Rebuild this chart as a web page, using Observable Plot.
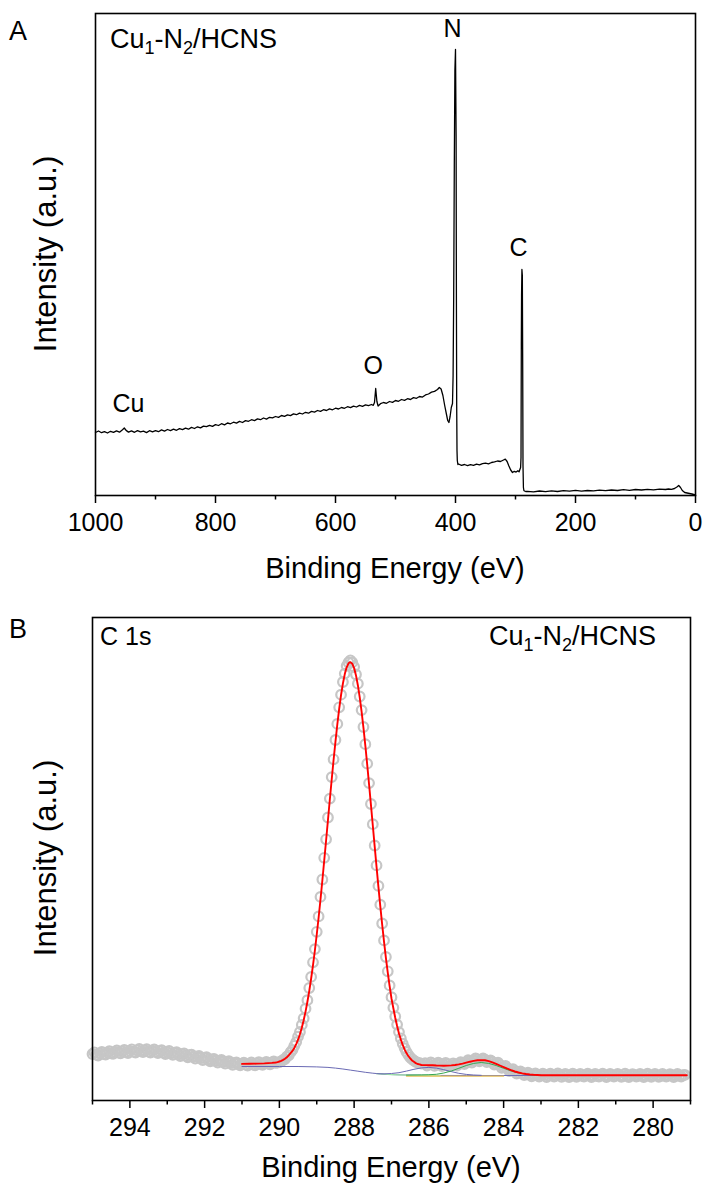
<!DOCTYPE html>
<html><head><meta charset="utf-8">
<script src="https://cdn.jsdelivr.net/npm/d3@7"></script>
<script src="https://cdn.jsdelivr.net/npm/@observablehq/plot@0.6"></script>
<style>
body{margin:0;background:#fff;}
#wrap{position:relative;width:704px;height:1191px;background:#fff;font-family:"Liberation Sans",Arial,sans-serif;}
.panel{position:absolute;left:0;}
</style></head><body><div id="wrap"><div id="pa" class="panel" style="top:0"></div><div id="pb" class="panel" style="top:600px"></div></div>
<script>
// ---------- Panel A : survey spectrum ----------
const surveyBE = [1000,995,990,985,980,975,970,965,960,955,952,949,945,940,935,930,925,920,915,910,905,900,895,890,885,880,875,870,865,860,855,850,845,840,835,830,825,820,815,810,805,800,795,790,785,780,775,770,765,760,755,750,745,740,735,730,725,720,715,710,705,700,695,690,685,680,675,670,665,660,655,650,645,640,635,630,625,620,615,610,605,600,595,590,585,580,575,570,565,560,555,550,545,540,537,535,533,531,529,525,520,515,510,505,500,495,490,485,480,475,470,465,460,455,450,445,440,435,430,427,424,421,418,415,413,411,409,407,405,404,403,402,401,400,399,398.5,398,397.5,397,396,395,390,385,380,375,370,365,360,355,350,345,340,335,330,325,320,317,314,311,308,305,302,299,296,294,293,291.5,290.8,290.3,289.9,289.3,288.6,288,287.5,286.8,286,285,283,280,270,260,250,240,230,220,210,200,190,180,170,160,150,140,130,120,110,100,90,80,70,60,50,45,40,35,31,28,25,22,18,14,10,6,3,0];
const surveyI = [63,64.5,62.8,63.9,62.5,64.2,63.1,64.6,63.3,65.8,67.5,65.1,63.4,64.7,63.2,64.9,63.6,64.3,62.9,64.8,63.7,64.9,63.8,65.6,64.4,66.0,64.9,66.3,65.2,66.9,65.9,67.4,66.3,68.1,67.0,68.7,67.6,69.4,68.8,70.2,69.1,70.9,70.0,71.8,70.6,72.5,71.7,73.3,72.4,74.1,73.0,74.9,74.2,75.8,74.9,76.6,75.8,77.5,76.4,78.2,77.6,79.0,78.1,80.0,79.2,80.7,79.9,81.6,80.8,82.4,81.5,83.2,82.3,84.1,83.4,85.0,84.1,85.8,85.0,86.6,85.7,87.3,86.5,88.0,87.2,88.8,87.9,89.4,88.5,90.1,89.2,90.6,89.8,91.0,90.2,93,107,94,89.5,91.8,93.0,92.2,94.0,93.1,95.0,94.2,96.0,95.1,96.8,96.0,97.9,97.2,99.0,98.4,100.6,101.5,103.4,104.1,106.0,108.0,106.5,100,90,81,75,73,79,88,92,120,200,330,425,446,360,200,90,45,35,31,31.5,30.2,31.0,29.8,30.9,30.1,31.3,30.6,31.8,32.4,31.7,33.0,33.6,34.5,34.0,35.5,36.4,34.0,29.5,25.5,23.0,24.2,23.4,24.8,23.6,25.5,28,38,150,200,226,220,130,30,8,5,4.5,4,4.2,3.6,4.5,3.8,4.6,4.0,4.9,4.3,5.1,4.4,5.0,4.6,5.4,4.8,5.5,5.0,5.8,5.2,6.0,5.5,6.2,5.7,6.4,6.0,6.5,6.2,7.0,8.5,10,8.0,5.0,3.0,2.5,2.0,1.5,1.0,0.5];
const surveyPeaks = [
  {t: "N", be: 405, i: 467},
  {t: "C", be: 295, i: 248},
  {t: "O", be: 537, i: 130},
  {t: "Cu", be: 945, i: 92}
];
const surveyMajor = [1000, 800, 600, 400, 200, 0];
const surveyMinor = [900, 700, 500, 300, 100];

// ---------- Panel B : C 1s ----------
const c1sRaw = [[295.0,46.5],[294.95,48.2],[294.9,45.8],[294.85,45.0],[294.8,47.1],[294.75,48.6],[294.7,46.4],[294.65,45.9],[294.6,47.9],[294.55,49.3],[294.5,47.2],[294.45,46.6],[294.4,48.6],[294.35,50.0],[294.3,47.9],[294.25,47.2],[294.2,49.1],[294.15,50.6],[294.1,48.3],[294.05,47.5],[294.0,49.6],[293.95,51.2],[293.9,48.8],[293.85,48.0],[293.8,50.2],[293.75,51.6],[293.7,49.4],[293.65,48.4],[293.6,50.1],[293.55,51.4],[293.5,49.0],[293.45,47.9],[293.4,49.8],[293.35,51.0],[293.3,48.6],[293.25,47.3],[293.2,49.3],[293.15,50.4],[293.1,47.9],[293.05,46.5],[293.0,48.4],[292.95,49.5],[292.9,47.2],[292.85,45.6],[292.8,47.6],[292.75,48.3],[292.7,46.1],[292.65,44.4],[292.6,46.4],[292.55,47.2],[292.5,45.0],[292.45,43.2],[292.4,45.3],[292.35,45.8],[292.3,43.8],[292.25,41.9],[292.2,43.9],[292.15,44.6],[292.1,42.4],[292.05,40.4],[292.0,42.5],[291.95,43.3],[291.9,41.1],[291.85,39.2],[291.8,41.0],[291.75,41.6],[291.7,39.6],[291.65,37.9],[291.6,39.8],[291.55,40.5],[291.5,38.5],[291.45,36.8],[291.4,38.7],[291.35,39.3],[291.3,37.4],[291.25,35.6],[291.2,37.6],[291.15,38.2],[291.1,36.5],[291.05,35.1],[291.0,36.9],[290.95,37.9],[290.9,35.8],[290.85,34.8],[290.8,36.6],[290.75,38.1],[290.7,36.0],[290.65,35.2],[290.6,37.0],[290.55,38.4],[290.5,36.4],[290.45,35.6],[290.4,37.3],[290.35,38.6],[290.3,36.9],[290.25,36.2],[290.2,38.0],[290.15,39.0],[290.1,37.6],
[290.05,37.9],[290.0,38.4],[289.95,39.1],[289.9,40.6],[289.85,41.5],[289.8,43.8],[289.75,45.2],[289.7,48.3],[289.65,50.6],[289.6,54.7],[289.55,58.4],[289.5,63.9],[289.45,68.5],[289.4,75.6],[289.35,82.1],[289.3,91.8],[289.25,100.3],[289.2,112.5],[289.15,123.6],[289.1,138.2],[289.05,151.4],[289.0,168.7],[288.95,184.1],[288.9,203.6],[288.85,221.0],[288.8,242.7],[288.75,261.2],[288.7,283.0],[288.65,301.9],[288.6,323.4],[288.55,341.2],[288.5,360.5],[288.45,376.6],[288.4,393.2],[288.35,405.8],[288.3,418.5],[288.25,426.9],[288.2,434.6],[288.15,438.0],[288.1,440.2],[288.05,438.1],[288.0,433.5],[287.95,426.0],[287.9,416.8],[287.85,404.0],[287.8,390.4],[287.75,373.5],[287.7,356.3],[287.65,336.8],[287.6,317.4],[287.55,296.5],[287.5,276.3],[287.45,255.0],[287.4,235.1],[287.35,214.6],[287.3,195.8],[287.25,177.0],[287.2,160.1],[287.15,143.5],[287.1,129.2],[287.05,115.1],[287.0,103.3],[286.95,92.8],[286.9,84.0],[286.85,75.9],[286.8,68.4],[286.75,62.2],[286.7,56.9],[286.65,52.4],[286.6,48.6],[286.55,45.7],[286.5,43.2],[286.45,41.3],[286.4,39.8],[286.35,38.6],[286.3,37.8],[286.25,37.3],[286.2,36.9],
[286.1,37.4],[286.05,35.0],[286.0,36.2],[285.95,38.2],[285.9,37.1],[285.85,34.6],[285.8,35.9],[285.75,37.9],[285.7,36.8],[285.65,34.3],[285.6,35.5],[285.55,37.5],[285.5,36.3],[285.45,34.1],[285.4,35.2],[285.35,37.2],[285.3,36.1],[285.25,34.8],[285.2,36.4],[285.15,38.4],[285.1,37.6],[285.05,36.3],[285.0,38.1],[284.95,40.4],[284.9,39.5],[284.85,38.0],[284.8,39.9],[284.75,42.0],[284.7,41.0],[284.65,39.2],[284.6,40.6],[284.55,42.1],[284.5,40.8],[284.45,38.5],[284.4,39.3],[284.35,40.2],[284.3,38.6],[284.25,35.9],[284.2,36.7],[284.15,37.8],[284.1,35.6],[284.05,32.6],[284.0,33.4],[283.95,34.6],[283.9,32.3],[283.85,29.5],[283.8,30.1],[283.75,31.3],[283.7,29.4],[283.65,27.0],[283.6,27.8],[283.55,29.1],[283.5,27.6],[283.45,25.5],[283.4,26.3],[283.35,27.9],[283.3,26.5],[283.25,24.2],[283.2,25.4],[283.15,27.1],[283.1,25.9],[283.05,23.9],[283.0,25.1],[282.95,26.8],[282.9,25.7],[282.85,23.5],[282.8,24.8],[282.75,26.9],[282.7,25.5],[282.65,23.8],[282.6,25.0],[282.55,27.0],[282.5,25.8],[282.45,23.6],[282.4,24.9],[282.35,26.7],[282.3,25.3],[282.25,23.4],[282.2,24.6],[282.15,26.8],[282.1,25.4],[282.05,23.7],[282.0,25.1],[281.95,26.5],[281.9,24.7],[281.85,23.9],[281.8,25.6],[281.75,26.9],[281.7,24.9],[281.65,23.5],[281.6,25.2],[281.55,26.6],[281.5,24.5],[281.45,23.8],[281.4,25.3],[281.35,26.8],[281.3,25.0],[281.25,23.4],[281.2,24.6],[281.15,26.5],[281.1,25.4],[281.05,23.9],[281.0,24.8],[280.95,26.7],[280.9,25.1],[280.85,23.6],[280.8,24.4],[280.75,26.9],[280.7,25.2],[280.65,23.5],[280.6,24.9],[280.55,26.4],[280.5,25.5],[280.45,23.8],[280.4,24.6],[280.35,26.6],[280.3,25.0],[280.25,23.4],[280.2,24.7],[280.15,26.8],[280.1,25.3],[280.05,23.7],[280.0,24.8],[279.95,26.5],[279.9,25.1],[279.85,23.6],[279.8,24.5],[279.75,26.7],[279.7,25.2],[279.65,23.8],[279.6,24.9],[279.55,26.4],[279.5,25.4],[279.45,23.5],[279.4,24.7],[279.35,26.6],[279.3,25.0],[279.25,24.0],[279.2,25.3],[279.15,25.6]];
const c1sFit = [[291.0,36.6],[290.8,36.7],[290.6,36.9],[290.4,37.1],[290.2,37.6],[290.1,38.0],[290.05,38.4],[290.0,39.0],[289.95,39.7],[289.9,40.6],[289.85,41.8],[289.8,43.3],[289.75,45.1],[289.7,47.3],[289.65,49.6],[289.6,52.6],[289.55,56.4],[289.5,60.8],[289.45,66.3],[289.4,72.8],[289.35,80.3],[289.3,88.9],[289.25,98.7],[289.2,109.7],[289.15,122.0],[289.1,135.3],[289.05,150.0],[289.0,166.0],[288.95,183.0],[288.9,201.0],[288.85,220.0],[288.8,240.0],[288.75,260.0],[288.7,280.5],[288.65,301.0],[288.6,321.0],[288.55,340.5],[288.5,358.7],[288.45,376.0],[288.4,391.7],[288.35,405.5],[288.3,417.0],[288.25,426.4],[288.2,433.2],[288.15,437.2],[288.1,438.4],[288.05,436.8],[288.0,432.4],[287.95,425.1],[287.9,415.3],[287.85,403.2],[287.8,388.9],[287.75,372.7],[287.7,354.9],[287.65,335.9],[287.6,316.0],[287.55,295.6],[287.5,275.0],[287.45,254.2],[287.4,233.7],[287.35,213.7],[287.3,194.4],[287.25,176.1],[287.2,158.8],[287.15,142.7],[287.1,127.9],[287.05,114.3],[287.0,102.0],[286.95,92.3],[286.9,82.8],[286.85,74.5],[286.8,67.1],[286.75,60.9],[286.7,55.6],[286.65,51.1],[286.6,47.4],[286.55,44.5],[286.5,42.1],[286.45,40.0],[286.4,38.7],[286.35,37.4],[286.3,36.5],[286.25,36.1],[286.2,35.5],[286.1,35.4],[286.0,35.3],[285.9,35.2],[285.8,35.0],[285.7,34.9],[285.6,34.8],[285.5,34.9],[285.4,35.1],[285.3,35.5],[285.2,36.1],[285.1,36.9],[285.0,37.9],[284.9,38.8],[284.8,39.6],[284.7,40.2],[284.6,40.4],[284.5,40.2],[284.4,39.4],[284.3,38.1],[284.2,36.6],[284.1,35.0],[284.0,33.4],[283.9,31.8],[283.8,30.3],[283.7,29.0],[283.6,28.0],[283.5,27.1],[283.4,26.5],[283.3,26.0],[283.2,25.7],[283.1,25.5],[283.0,25.3],[282.5,25.2],[282.0,25.2],[281.0,25.2],[280.0,25.2],[279.1,25.2]];
const c1sBackground = [[291.0,34.0],[290.0,34.0],[289.5,34.0],[289.0,33.6],[288.7,33.1],[288.5,32.4],[288.3,31.5],[288.1,30.4],[287.9,29.3],[287.7,28.2],[287.5,27.3],[287.3,26.6],[287.1,26.1],[286.9,25.8],[286.6,25.5],[286.3,25.3],[286.0,25.1],[285.0,25.0],[283.0,25.0],[281.0,25.0],[279.1,25.0]];
const c1sCO = [[287.4,26.9],[287.2,26.6],[287.0,27.0],[286.8,27.8],[286.6,29.4],[286.4,31.2],[286.2,32.6],[286.0,33.1],[285.8,32.4],[285.6,30.8],[285.4,28.9],[285.2,27.2],[285.0,26.1],[284.8,25.5],[284.6,25.2]];
const c1sCC = [[286.6,25.4],[286.2,25.6],[286.0,25.8],[285.8,26.2],[285.6,27.5],[285.4,29.5],[285.2,32.2],[285.0,35.0],[284.8,37.1],[284.6,38.0],[284.4,37.1],[284.2,35.0],[284.0,32.2],[283.8,29.5],[283.6,27.5],[283.4,26.2],[283.2,25.5],[283.0,25.2]];
const c1sBaseA = [[287.4,26.8],[287.0,25.9],[286.6,25.3],[286.0,24.9],[285.7,24.8]];
const c1sBaseB = [[286.6,24.4],[286.0,24.3],[285.0,24.3],[284.0,24.4]];
const c1sMajor = [294, 292, 290, 288, 286, 284, 282, 280];
const c1sMinor = [295, 293, 291, 289, 287, 285, 283, 281, 279];

const FONT = "Liberation Sans, Arial, sans-serif";
const pts = a => a.map(([x, y]) => ({x, y}));

const A = Plot.plot({
  width: 704, height: 600,
  marginTop: 13, marginBottom: 105, marginLeft: 95, marginRight: 9,
  style: {fontFamily: FONT, fontSize: "25px", color: "#000", background: "transparent", overflow: "visible"},
  x: {domain: [1000, 0]},
  y: {domain: [0, 482], axis: null},
  marks: [
    Plot.axisX({ticks: surveyMajor, tickSize: 8, tickPadding: 10, tickFormat: d => `${d}`, label: null, strokeWidth: 1.5}),
    Plot.axisX({ticks: surveyMinor, tickSize: 4.5, tickFormat: () => "", label: null, strokeWidth: 1.5}),
    Plot.line(surveyBE.map((x, i) => ({x, y: surveyI[i]})), {x: "x", y: "y", stroke: "#000", strokeWidth: 1.3}),
    Plot.text(surveyPeaks, {x: "be", y: "i", text: "t", fontSize: 25, fill: "#000"}),
    Plot.frame({stroke: "#000", strokeWidth: 1.6})
  ]
});

const B = Plot.plot({
  width: 704, height: 591,
  marginTop: 17, marginBottom: 91, marginLeft: 92, marginRight: 14,
  style: {fontFamily: FONT, fontSize: "25px", color: "#000", background: "transparent", overflow: "visible"},
  x: {domain: [295, 279]},
  y: {domain: [0, 483], axis: null},
  marks: [
    Plot.axisX({ticks: c1sMajor, tickSize: 8, tickPadding: 10, tickFormat: d => `${d}`, label: null, strokeWidth: 1.5}),
    Plot.axisX({ticks: c1sMinor, tickSize: 4.5, tickFormat: () => "", label: null, strokeWidth: 1.5}),
    Plot.dot(pts(c1sRaw), {x: "x", y: "y", r: 4.8, stroke: "#c6c6c6", strokeWidth: 2.2, fill: "none"}),
    Plot.line(pts(c1sBackground), {x: "x", y: "y", stroke: "#6a6ab4", strokeWidth: 1}),
    Plot.line(pts(c1sBaseA), {x: "x", y: "y", stroke: "#9ee3a6", strokeWidth: 1.2}),
    Plot.line(pts(c1sBaseB), {x: "x", y: "y", stroke: "#e8c15a", strokeWidth: 1.2}),
    Plot.line(pts(c1sCO), {x: "x", y: "y", stroke: "#6a6ab4", strokeWidth: 1}),
    Plot.line(pts(c1sCC), {x: "x", y: "y", stroke: "#35a852", strokeWidth: 1}),
    Plot.line(pts(c1sFit), {x: "x", y: "y", stroke: "#ff0000", strokeWidth: 1.9}),
    Plot.frame({stroke: "#000", strokeWidth: 1.6})
  ]
});

document.getElementById("pa").appendChild(A);
document.getElementById("pb").appendChild(B);

function txt(svg, x, y, s, size, anchor = "start", rot = false) {
  const t = d3.select(svg).append("text")
    .attr("font-family", FONT).attr("font-size", size).attr("fill", "#000")
    .attr("text-anchor", anchor).text(s);
  if (rot) t.attr("transform", `translate(${x},${y}) rotate(-90)`).attr("dy", "0.35em");
  else t.attr("x", x).attr("y", y);
  return t;
}
function sample(svg, x, y, size, anchor) {
  const t = d3.select(svg).append("text")
    .attr("x", x).attr("y", y).attr("font-family", FONT).attr("font-size", size)
    .attr("fill", "#000").attr("text-anchor", anchor);
  const sub = Math.round(size * 0.68);
  t.append("tspan").text("Cu");
  t.append("tspan").attr("font-size", sub).attr("dy", 6).text("1");
  t.append("tspan").attr("dy", -6).text("-N");
  t.append("tspan").attr("font-size", sub).attr("dy", 6).text("2");
  t.append("tspan").attr("dy", -6).text("/HCNS");
}
// panel A texts
txt(A, 9, 40, "A", 27);
sample(A, 110, 48, 27, "start");
txt(A, 45, 254, "Intensity (a.u.)", 31, "middle", true);
txt(A, 395, 578, "Binding Energy (eV)", 29, "middle");
// panel B texts
txt(B, 9, 38, "B", 27);
txt(B, 100, 45, "C 1s", 25, "start");
sample(B, 656, 45, 27, "end");
txt(B, 45, 258, "Intensity (a.u.)", 31, "middle", true);
txt(B, 391, 577, "Binding Energy (eV)", 29, "middle");
</script>
</body></html>
